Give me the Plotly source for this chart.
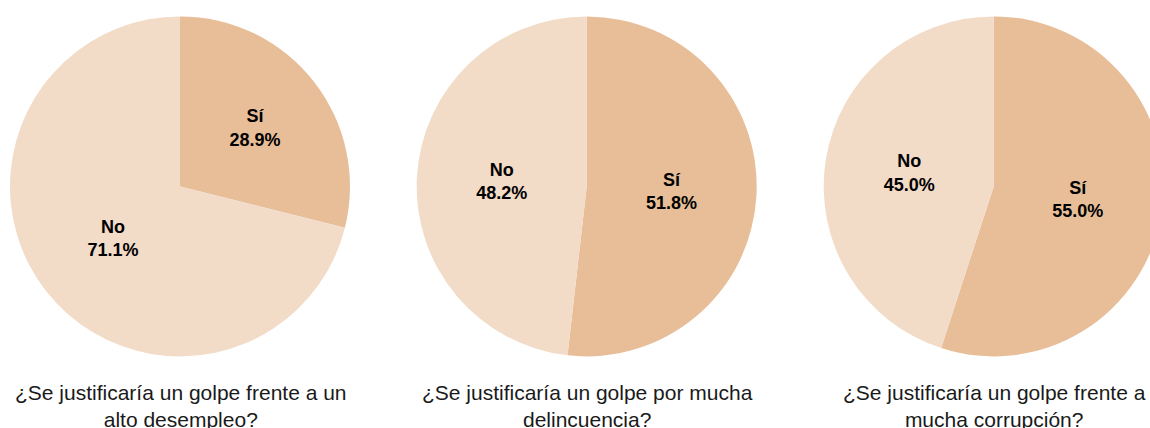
import plotly.graph_objects as go

labels = ["Sí", "No"]
desempleo = [28.9, 71.1]
delincuencia = [51.8, 48.2]
corrupcion = [55.0, 45.0]
series = [desempleo, delincuencia, corrupcion]
titles = [
    "¿Se justificaría un golpe frente a un<br>alto desempleo?",
    "¿Se justificaría un golpe por mucha<br>delincuencia?",
    "¿Se justificaría un golpe frente a<br>mucha corrupción?",
]
colors = ["#E8BE98", "#F2DBC7"]

W, H = 1170, 428
centers_x = [180, 586.7, 993.7]
center_y = 186.4
R = 170

fig = go.Figure()
for vals, cx, title in zip(series, centers_x, titles):
    fig.add_trace(go.Pie(
        labels=labels,
        values=vals,
        sort=False,
        direction="clockwise",
        rotation=0,
        marker=dict(colors=colors, line=dict(width=0)),
        texttemplate="<b>%{label}</b><br><b>%{percent:.1%}</b>",
        textposition="inside",
        insidetextorientation="horizontal",
        insidetextfont=dict(family="Arial, Liberation Sans, sans-serif", size=18, color="#000000"),
        hoverinfo="label+percent",
        showlegend=False,
        domain=dict(x=[(cx - R) / W, (cx + R) / W],
                    y=[(H - center_y - R) / H, (H - center_y + R) / H]),
    ))
    fig.add_annotation(
        text=title, x=(cx + 1) / W, y=(H - 406) / H, xref="paper", yref="paper",
        xanchor="center", yanchor="middle", showarrow=False,
        font=dict(family="Arial, Liberation Sans, sans-serif", size=21, color="#1a1a1a"),
    )

fig.update_layout(
    width=W, height=H,
    margin=dict(l=0, r=0, t=0, b=0),
    paper_bgcolor="white",
    plot_bgcolor="white",
)

fig.write_html(
    "out.html",
    config={"displayModeBar": False},
    post_script="document.body.style.margin='0';document.body.style.overflow='hidden';document.documentElement.style.overflow='hidden';",
)
